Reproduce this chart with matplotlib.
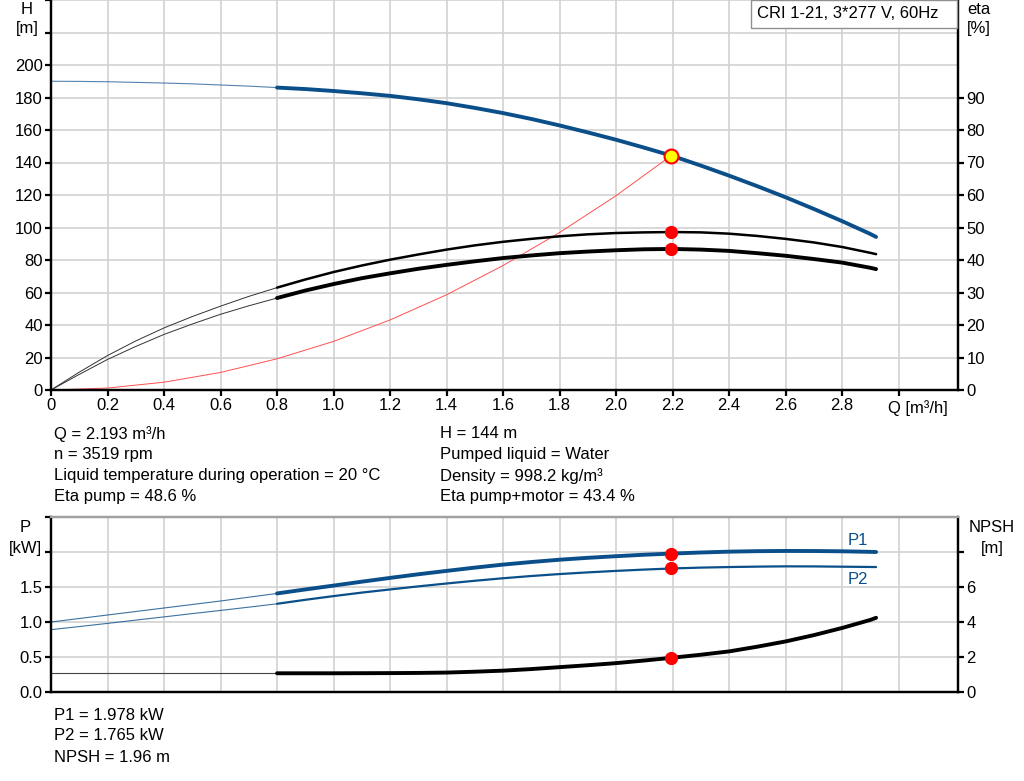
import matplotlib
matplotlib.use("Agg")
import matplotlib.pyplot as plt
from matplotlib.patches import Rectangle

plt.rcParams['font.family'] = ['Liberation Sans', 'DejaVu Sans']
plt.rcParams['font.size'] = 12

# cores
azul = "#0b4f8a"
vermelho = "#ff0000"
cinza_grade = "#d2d2d2"

# ---- dados ----
# vazao (m3/h): parte fina (0 a 0.8) e parte grossa (0.8 ao fim)
q_fino = [0.0, 0.1, 0.2, 0.3, 0.4, 0.5, 0.6, 0.7, 0.8]
q_grosso = [0.8, 0.9, 1.0, 1.1, 1.2, 1.3, 1.4, 1.5, 1.6, 1.7, 1.8, 1.9, 2.0,
            2.1, 2.2, 2.3, 2.4, 2.5, 2.6, 2.7, 2.8, 2.9, 2.92]

# curva H (m)
h_fino = [190.0, 189.9, 189.7, 189.3, 188.9, 188.4, 187.7, 187.0, 186.1]
h_grosso = [186.1, 185.2, 184.0, 182.6, 181.0, 178.9, 176.5, 173.6, 170.4, 166.8,
            162.8, 158.5, 154.0, 149.1, 144.0, 138.1, 131.9, 125.4, 118.6, 111.4,
            103.9, 96.0, 94.2]

# eficiencia (%)
eta_bomba_fino = [0.0, 5.5, 10.6, 15.1, 19.1, 22.6, 25.8, 28.8, 31.5]
eta_total_fino = [0.0, 4.8, 9.4, 13.4, 17.1, 20.3, 23.3, 25.9, 28.3]
eta_bomba = [31.5, 34.0, 36.3, 38.3, 40.1, 41.7, 43.2, 44.5, 45.6, 46.5, 47.3, 47.9,
             48.3, 48.5, 48.6, 48.5, 48.1, 47.4, 46.5, 45.4, 44.0, 42.2, 41.8]
eta_total = [28.3, 30.6, 32.6, 34.4, 35.9, 37.3, 38.5, 39.6, 40.6, 41.4, 42.1, 42.6,
             43.0, 43.3, 43.4, 43.2, 42.8, 42.1, 41.3, 40.3, 39.2, 37.6, 37.2]

# curva do sistema (m)
q_sistema = [0.0, 0.2, 0.4, 0.6, 0.8, 1.0, 1.2, 1.4, 1.6, 1.8, 2.0, 2.193]
h_sistema = [0.0, 1.2, 4.8, 10.8, 19.2, 29.9, 43.1, 58.6, 76.6, 96.9, 119.6, 144.0]

# potencia (kW) e NPSH (m)
p1_fino = [1.00, 1.05, 1.10, 1.15, 1.20, 1.25, 1.30, 1.354, 1.408]
p2_fino = [0.89, 0.935, 0.98, 1.027, 1.073, 1.12, 1.165, 1.212, 1.26]
p1 = [1.408, 1.465, 1.52, 1.576, 1.63, 1.682, 1.73, 1.777, 1.82, 1.857, 1.89, 1.917,
      1.94, 1.961, 1.978, 1.993, 2.005, 2.012, 2.015, 2.014, 2.01, 2.002, 2.0]
p2 = [1.26, 1.317, 1.37, 1.42, 1.465, 1.509, 1.55, 1.589, 1.625, 1.657, 1.685, 1.709,
      1.73, 1.749, 1.765, 1.777, 1.785, 1.791, 1.795, 1.794, 1.79, 1.786, 1.785]
npsh_fino = [1.07, 1.07, 1.07, 1.07, 1.07, 1.07, 1.07, 1.07, 1.07]
npsh = [1.07, 1.07, 1.07, 1.075, 1.08, 1.09, 1.11, 1.16, 1.22, 1.31, 1.42, 1.53,
        1.65, 1.80, 1.96, 2.13, 2.32, 2.59, 2.89, 3.25, 3.66, 4.12, 4.24]

# ponto de trabalho
q_ponto = 2.193
h_ponto = 144.0
eta_bomba_ponto = 48.6
eta_total_ponto = 43.4
p1_ponto = 1.978
p2_ponto = 1.765
npsh_ponto = 1.96

x_ticks = [0, 0.2, 0.4, 0.6, 0.8, 1.0, 1.2, 1.4, 1.6, 1.8, 2.0, 2.2, 2.4, 2.6, 2.8, 3.0]
x_labels = ["0", "0.2", "0.4", "0.6", "0.8", "1.0", "1.2", "1.4", "1.6", "1.8",
            "2.0", "2.2", "2.4", "2.6", "2.8", ""]

W, H = 1024, 781
fig = plt.figure(figsize=(W / 100, H / 100), dpi=100)


def fx(px):
    return px / W


def fy(py):
    return 1 - py / H


def estilo_eixo(ax, top_visivel):
    for lado in ["left", "right", "bottom"]:
        ax.spines[lado].set_linewidth(1.6)
        ax.spines[lado].set_color("black")
    ax.spines["top"].set_visible(top_visivel)
    ax.spines["top"].set_color("#a0a0a0")
    ax.spines["top"].set_linewidth(1.6)
    ax.tick_params(direction="out", length=4, width=1.6, colors="black", labelsize=12, pad=2)


# ---------------- grafico de cima ----------------
ax = fig.add_axes([fx(51), fy(390), fx(958) - fx(51), 1 - fy(390)])
ax.set_xlim(0, 3.21)
ax.set_ylim(0, 240)
ax.set_xticks(x_ticks)
ax.set_xticklabels(x_labels)
ax.set_yticks(range(0, 241, 20))
ax.set_yticklabels([str(v) if v <= 200 else "" for v in range(0, 241, 20)])
ax.grid(True, color=cinza_grade, linewidth=1.2)
ax.set_axisbelow(True)
estilo_eixo(ax, False)
for t in ax.yaxis.get_major_ticks()[-2:]:
    t.tick1line.set_visible(False)

ax.plot(q_fino, h_fino, color=azul, linewidth=0.8, alpha=0.7)
ax.plot(q_grosso, h_grosso, color=azul, linewidth=2.8, solid_capstyle="round")
ax.plot(q_sistema, h_sistema, color="#ff5050", linewidth=0.7)

ax2 = ax.twinx()
ax2.set_ylim(0, 120)
ax2.set_yticks(range(0, 91, 10))
estilo_eixo(ax2, False)
ax2.plot(q_fino, eta_bomba_fino, color="#333333", linewidth=0.7)
ax2.plot(q_fino, eta_total_fino, color="#333333", linewidth=0.7)
ax2.plot(q_grosso, eta_bomba, color="black", linewidth=1.8, solid_capstyle="round")
ax2.plot(q_grosso, eta_total, color="black", linewidth=2.8, solid_capstyle="round")
ax2.plot([q_ponto, q_ponto], [eta_bomba_ponto, eta_total_ponto], linestyle="none",
         marker="o", markersize=8.5, color=vermelho)
ax2.plot([q_ponto], [h_ponto / 2], linestyle="none", marker="o", markersize=10,
         markerfacecolor="#ffff00", markeredgecolor=vermelho, markeredgewidth=1.5)

fig.text(fx(888), fy(408), "Q [m³/h]", ha="left", va="center", fontsize=12)
fig.text(fx(27), fy(9), "H", ha="center", va="center", fontsize=12)
fig.text(fx(27), fy(29), "[m]", ha="center", va="center", fontsize=12)
fig.text(fx(979), fy(9), "eta", ha="center", va="center", fontsize=12)
fig.text(fx(979), fy(29), "[%]", ha="center", va="center", fontsize=12)

# caixa com o nome da bomba
fig.patches.append(Rectangle((fx(751), fy(28)), fx(957) - fx(751), fy(0) - fy(28),
                             transform=fig.transFigure, facecolor="white",
                             edgecolor="#909090", linewidth=1.0))
fig.text(fx(757), fy(14), "CRI 1-21, 3*277 V, 60Hz", ha="left", va="center", fontsize=12)

# textos do ponto de trabalho
linhas_esq = ["Q = 2.193 m³/h", "n = 3519 rpm",
              "Liquid temperature during operation = 20 °C", "Eta pump = 48.6 %"]
linhas_dir = ["H = 144 m", "Pumped liquid = Water",
              "Density = 998.2 kg/m³", "Eta pump+motor = 43.4 %"]
for i, txt in enumerate(linhas_esq):
    fig.text(fx(54), fy(434 + 21 * i), txt, ha="left", va="center", fontsize=12)
for i, txt in enumerate(linhas_dir):
    fig.text(fx(440), fy(434 + 21 * i), txt, ha="left", va="center", fontsize=12)

# ---------------- grafico de baixo ----------------
bx = fig.add_axes([fx(51), fy(692), fx(958) - fx(51), fy(517) - fy(692)])
bx.set_xlim(0, 3.21)
bx.set_ylim(0, 2.5)
bx.set_xticks(x_ticks)
bx.set_xticklabels([])
bx.set_yticks([0, 0.5, 1.0, 1.5, 2.0, 2.5])
bx.set_yticklabels(["0.0", "0.5", "1.0", "1.5", "", ""])
bx.grid(True, color=cinza_grade, linewidth=1.2)
bx.set_axisbelow(True)
estilo_eixo(bx, True)
bx.tick_params(axis="x", length=0)
bx.yaxis.get_major_ticks()[-1].tick1line.set_visible(False)

bx.plot(q_fino, p1_fino, color=azul, linewidth=0.8, alpha=0.8)
bx.plot(q_fino, p2_fino, color=azul, linewidth=0.8, alpha=0.8)
bx.plot(q_grosso, p1, color=azul, linewidth=2.8, solid_capstyle="round")
bx.plot(q_grosso, p2, color=azul, linewidth=1.6, solid_capstyle="round")
bx.plot([q_ponto, q_ponto], [p1_ponto, p2_ponto], linestyle="none", marker="o",
        markersize=8.5, color=vermelho)
bx.text(2.82, 2.06, "P1", color=azul, fontsize=12, ha="left", va="bottom")
bx.text(2.82, 1.72, "P2", color=azul, fontsize=12, ha="left", va="top")

bx2 = bx.twinx()
bx2.set_ylim(0, 10)
bx2.set_yticks([0, 2, 4, 6, 8, 10])
bx2.set_yticklabels(["0", "2", "4", "6", "", ""])
estilo_eixo(bx2, True)
bx2.yaxis.get_major_ticks()[-1].tick2line.set_visible(False)
bx2.plot(q_fino, npsh_fino, color="#444444", linewidth=0.8)
bx2.plot(q_grosso, npsh, color="black", linewidth=2.8, solid_capstyle="round")
bx2.plot([q_ponto], [npsh_ponto], linestyle="none", marker="o", markersize=8.5,
         color=vermelho)

fig.text(fx(25), fy(527), "P", ha="center", va="center", fontsize=12)
fig.text(fx(25), fy(548), "[kW]", ha="center", va="center", fontsize=12)
fig.text(fx(992), fy(527), "NPSH", ha="center", va="center", fontsize=12)
fig.text(fx(992), fy(548), "[m]", ha="center", va="center", fontsize=12)

linhas_baixo = ["P1 = 1.978 kW", "P2 = 1.765 kW", "NPSH = 1.96 m"]
for i, txt in enumerate(linhas_baixo):
    fig.text(fx(54), fy(715 + 21 * i), txt, ha="left", va="center", fontsize=12)

fig.savefig("out.png", dpi=100)
